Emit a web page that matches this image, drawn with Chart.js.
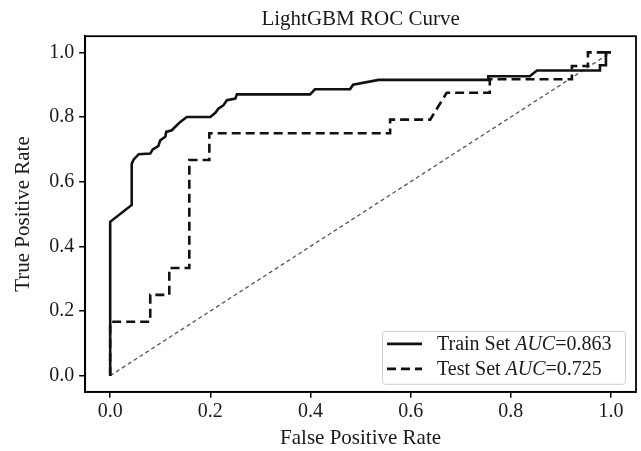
<!DOCTYPE html>
<html><head><meta charset="utf-8">
<style>html,body{margin:0;padding:0;background:#fff;}#wrap{width:641px;height:451px;}</style>
<script src="https://cdn.jsdelivr.net/npm/chart.js@4.4.1/dist/chart.umd.min.js"></script>
</head><body><div id="wrap"><canvas id="c" width="641" height="451"></canvas></div>
<script>
// ---- data ----
const trainFPR = [0, 0, 0.043, 0.043, 0.047, 0.057, 0.080, 0.085, 0.096, 0.100, 0.110, 0.112, 0.123, 0.130, 0.140, 0.153, 0.200, 0.210, 0.216, 0.226, 0.233, 0.250, 0.253, 0.399, 0.409, 0.479, 0.485, 0.536, 0.755, 0.755, 0.838, 0.852, 0.978, 0.978, 0.990, 0.990, 1.0];
const trainTPR = [0, 0.476, 0.528, 0.656, 0.669, 0.685, 0.687, 0.700, 0.710, 0.728, 0.739, 0.754, 0.759, 0.770, 0.785, 0.800, 0.800, 0.813, 0.826, 0.836, 0.852, 0.857, 0.870, 0.870, 0.886, 0.886, 0.900, 0.915, 0.915, 0.926, 0.926, 0.944, 0.944, 0.960, 0.960, 1.0, 1.0];
const testFPR = [0, 0, 0.080, 0.080, 0.118, 0.118, 0.158, 0.158, 0.198, 0.198, 0.559, 0.559, 0.639, 0.672, 0.758, 0.758, 0.922, 0.922, 0.954, 0.954, 1.0];
const testTPR = [0, 0.167, 0.167, 0.250, 0.250, 0.333, 0.333, 0.667, 0.667, 0.750, 0.750, 0.792, 0.792, 0.875, 0.875, 0.917, 0.917, 0.958, 0.958, 1.0, 1.0];
const chanceFPR = [0, 1];
const chanceTPR = [0, 1];
const tickValues = [0, 0.2, 0.4, 0.6, 0.8, 1.0];
const tickLabels = ['0.0', '0.2', '0.4', '0.6', '0.8', '1.0'];
const seriesNames = ['Train Set', 'Test Set'];
const aucValues = ['0.863', '0.725'];
const titleText = 'LightGBM ROC Curve';
const xLabel = 'False Positive Rate';
const yLabel = 'True Positive Rate';

const FAM = '"Liberation Serif", "Times New Roman", serif';
const INK = '#1a1a1a';
const toPts = (xs, ys) => xs.map((x, i) => ({x: x, y: ys[i]}));

const framePlugin = {
  id: 'frame',
  afterDatasetsDraw(chart) {
    const a = chart.chartArea, ctx = chart.ctx;
    ctx.save();
    ctx.strokeStyle = '#000';
    ctx.lineWidth = 1.8;
    ctx.strokeRect(a.left, a.top, a.right - a.left, a.bottom - a.top);
    ctx.restore();
  }
};

const legendPlugin = {
  id: 'mixedLegend',
  afterDraw(chart) {
    const a = chart.chartArea, ctx = chart.ctx;
    const bx = a.right - 254, by = a.bottom - 61, bw = 243, bh = 53;
    ctx.save();
    ctx.fillStyle = 'rgba(255,255,255,0.85)';
    ctx.strokeStyle = '#cfcfcf';
    ctx.lineWidth = 1;
    ctx.beginPath();
    if (ctx.roundRect) ctx.roundRect(bx + 0.5, by + 0.5, bw, bh, 3); else ctx.rect(bx + 0.5, by + 0.5, bw, bh);
    ctx.fill(); ctx.stroke();
    const dashes = [[], [9, 5]];
    for (let i = 0; i < 2; i++) {
      const y = by + 13 + i * 25;
      ctx.strokeStyle = '#111';
      ctx.lineWidth = 2.6;
      ctx.setLineDash(dashes[i]);
      ctx.beginPath(); ctx.moveTo(bx + 5, y); ctx.lineTo(bx + 40, y); ctx.stroke();
      ctx.setLineDash([]);
      let x = bx + 55;
      ctx.fillStyle = INK;
      ctx.textBaseline = 'middle';
      const parts = [[seriesNames[i] + ' ', 'normal'], ['AUC', 'italic'], ['=' + aucValues[i], 'normal']];
      for (const [t, st] of parts) {
        ctx.font = st + ' 20px ' + FAM;
        ctx.fillText(t, x, y + 1);
        x += ctx.measureText(t).width;
      }
    }
    ctx.restore();
  }
};

const tickFont = {family: FAM, size: 20};
const axTitleFont = {family: FAM, size: 21, lineHeight: 1.15};

new Chart(document.getElementById('c'), {
  type: 'line',
  data: {
    datasets: [
      {label: seriesNames[0], data: toPts(trainFPR, trainTPR), borderColor: '#111', borderWidth: 2.6, pointRadius: 0, tension: 0, fill: false, order: 1},
      {label: seriesNames[1], data: toPts(testFPR, testTPR), borderColor: '#111', borderWidth: 2.6, borderDash: [9, 5], pointRadius: 0, tension: 0, fill: false, order: 2},
      {label: 'chance', data: toPts(chanceFPR, chanceTPR), borderColor: '#555', borderWidth: 1.3, borderDash: [4, 3], pointRadius: 0, tension: 0, fill: false, order: 3}
    ]
  },
  options: {
    responsive: false,
    animation: false,
    devicePixelRatio: 1,
    layout: {padding: {left: 9, right: 5, top: 0, bottom: 0}},
    plugins: {
      legend: {display: false},
      tooltip: {enabled: false},
      title: {display: true, text: titleText, fullSize: false, color: INK, font: {family: FAM, size: 21, weight: 'normal'}, padding: {top: 7, bottom: 4}}
    },
    scales: {
      x: {
        type: 'linear', min: -0.05, max: 1.05,
        afterBuildTicks: s => { s.ticks = tickValues.map(v => ({value: v})); },
        ticks: {callback: (v, i) => tickLabels[i], font: tickFont, color: INK, padding: 2, maxRotation: 0, autoSkip: false},
        grid: {drawOnChartArea: false, drawTicks: true, tickLength: 6, color: '#000', lineWidth: 1.5},
        border: {display: true, color: '#000', width: 1.8},
        title: {display: true, text: xLabel, font: axTitleFont, color: INK, padding: {top: 1, bottom: 0}}
      },
      y: {
        type: 'linear', min: -0.05, max: 1.05,
        afterBuildTicks: s => { s.ticks = tickValues.map(v => ({value: v})); },
        ticks: {callback: (v, i) => tickLabels[i], font: tickFont, color: INK, padding: 5, autoSkip: false},
        grid: {drawOnChartArea: false, drawTicks: true, tickLength: 6, color: '#000', lineWidth: 1.5},
        border: {display: true, color: '#000', width: 1.8},
        title: {display: true, text: yLabel, font: axTitleFont, color: INK, padding: {top: 2, bottom: 9}}
      }
    }
  },
  plugins: [framePlugin, legendPlugin]
});
</script>
</body></html>
